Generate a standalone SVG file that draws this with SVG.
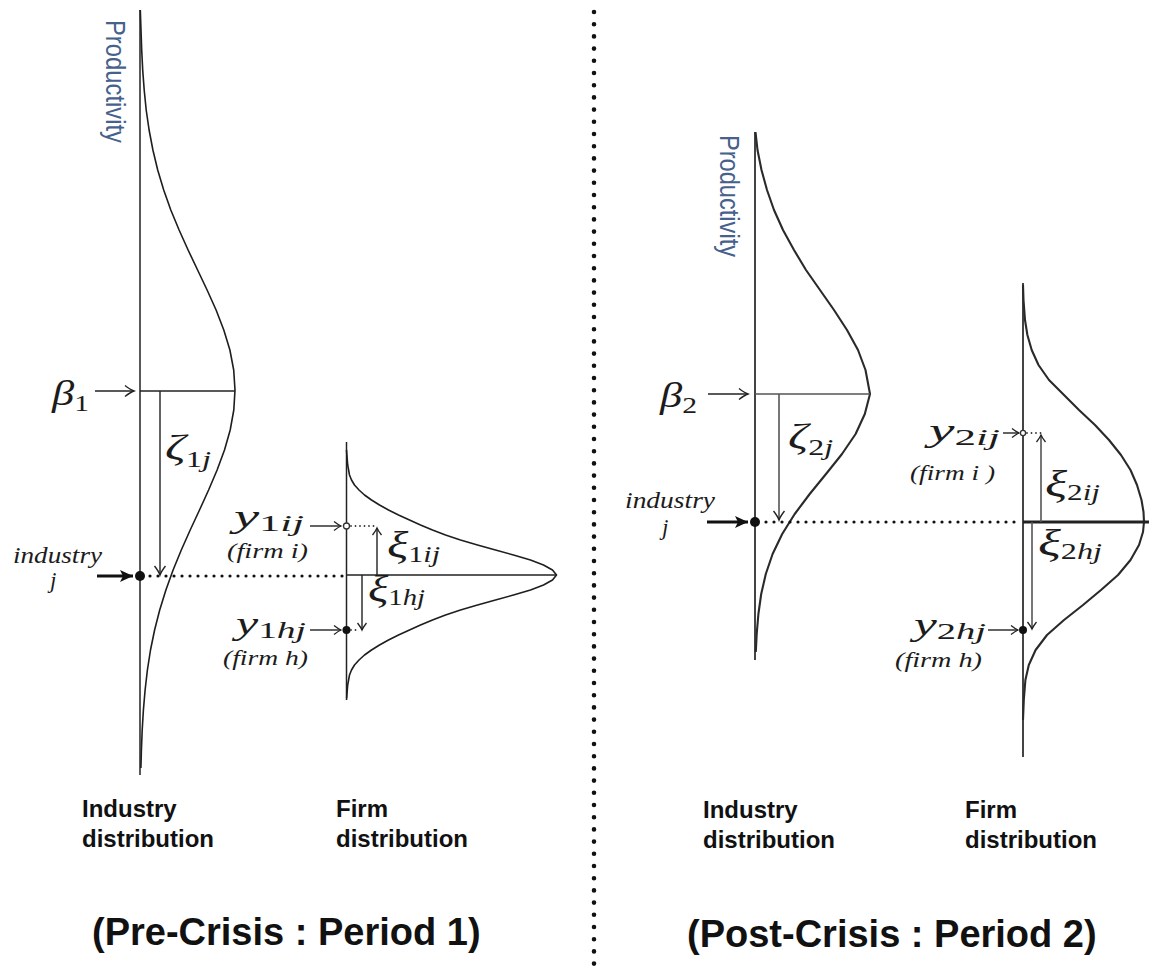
<svg xmlns="http://www.w3.org/2000/svg" width="1149" height="973" viewBox="0 0 1149 973">
<style>
.bg{fill:#fff}
.ax{stroke:#222;stroke-width:1.5;fill:none}
.ax2{stroke:#444;stroke-width:2;fill:none}
.cv{stroke:#1e1e1e;stroke-width:1.6;fill:none;stroke-linejoin:round}
.cv2{stroke:#2a2a2a;stroke-width:2.1;fill:none;stroke-linejoin:round}
.ln{stroke:#222;stroke-width:1.4;fill:none}
.ln2{stroke:#555;stroke-width:1.6;fill:none}
.dot{stroke:#111;stroke-width:3.2;stroke-linecap:round;stroke-dasharray:0 8;fill:none}
.sdot{stroke:#333;stroke-width:1.8;stroke-linecap:round;stroke-dasharray:0 4.5;fill:none}
.bold{stroke:#111;stroke-width:3;fill:none}
.m{font-family:"Liberation Serif","Times New Roman",serif;fill:#1c1c1c}
.it{font-style:italic}
.lab{font-family:"Liberation Sans",Arial,sans-serif;font-weight:bold;font-size:24px;fill:#111}
.title{font-family:"Liberation Sans",Arial,sans-serif;font-weight:bold;font-size:38px;fill:#111}
.prod{font-family:"Liberation Sans",Arial,sans-serif;font-size:27px;fill:#45618c}
</style>
<defs>
<marker id="open" viewBox="-11 -7 13 14" refX="0" refY="0" markerWidth="13" markerHeight="14" markerUnits="userSpaceOnUse" orient="auto">
<path d="M-9,-5.5 Q-3.5,-1.2 0,0 Q-3.5,1.2 -9,5.5" fill="none" stroke="#222" stroke-width="1.4"/>
</marker>
<marker id="opensm" viewBox="-9 -6 11 12" refX="0" refY="0" markerWidth="11" markerHeight="12" markerUnits="userSpaceOnUse" orient="auto">
<path d="M-7,-4.5 Q-2.5,-1 0,0 Q-2.5,1 -7,4.5" fill="none" stroke="#222" stroke-width="1.3"/>
</marker>
<marker id="bold" viewBox="-14 -7 15 14" refX="0" refY="0" markerWidth="15" markerHeight="14" markerUnits="userSpaceOnUse" orient="auto">
<path d="M-13,-6 L0,0 L-13,6 L-10,0 Z" fill="#111"/>
</marker>
</defs>
<rect class="bg" x="0" y="0" width="1149" height="973"/>

<g id="divider">
<line x1="594" y1="12" x2="594" y2="970" stroke="#111" stroke-width="4.6" stroke-linecap="round" stroke-dasharray="0 12.2"/>
</g>

<!-- Pre-crisis : industry distribution -->
<g id="industry-dist-1">
<line class="ax" x1="140" y1="10" x2="140" y2="775"/>
<polyline class="cv" points="140.3,10 141,30 141.7,50 142.7,70 144.2,90 146.2,110 149.1,130 152.9,150 157.7,170 163.7,190 170.8,210 179.1,230 188.1,250 197.6,270 207.1,290 216.1,310 223.8,330 229.9,350 233.7,370 235,390 233.8,410 230.2,430 224.5,450 217.1,470 208.6,490 199.5,510 190.2,530 181.3,550 173.1,570 165.9,590 159.7,610 154.6,630 150.5,650 147.4,670 145.1,690 143.4,710 142.2,730 141.4,750 140.9,768"/>
<line class="ln" x1="140" y1="391" x2="235" y2="391"/>
<circle cx="140" cy="576" r="5" fill="#111"/>
<text class="prod" transform="translate(106,20) rotate(90)" textLength="123" lengthAdjust="spacingAndGlyphs">Productivity</text>
</g>

<!-- Pre-crisis : firm distribution -->
<g id="firm-dist-1">
<line class="ax" x1="346.5" y1="442" x2="346.5" y2="698"/>
<polyline class="cv" points="346.5,450 346.9,455 347.7,465 349.5,475 351.5,480 354.5,485 359,490 364.5,495 371.5,500 379.5,505 388.5,510 398.5,515 409.5,520 420.5,525 432.5,530 445.5,535 460.5,540 477.5,545 495.5,550 513.5,555 530.5,560 543.5,565 552.5,570 556.5,575 552.5,580 543.5,585 530.5,590 513.5,595 495.5,600 477.5,605 460.5,610 445.5,615 432.5,620 420.5,625 409.5,630 398.5,635 388.5,640 379.5,645 371.5,650 364.5,655 359,660 354.5,665 351.5,670 349.5,675 347.7,685 346.9,695 346.5,700"/>
<line class="ln" x1="346.5" y1="575" x2="557" y2="575"/>
<circle cx="346.5" cy="526" r="3" fill="#fff" stroke="#333" stroke-width="1.3"/>
<circle cx="346.5" cy="630" r="4" fill="#111"/>
</g>

<!-- Post-crisis : industry distribution -->
<g id="industry-dist-2">
<line class="ax2" x1="755" y1="132" x2="755" y2="660"/>
<polyline class="cv2" points="755.5,132 757.5,150 761.5,170 767,190 774,210 783,230 794,250 806,270 820,290 834,310 847,330 858,350 865.5,370 870,394 864.8,414 855.6,434 842,454 826,474 809.7,494 794.7,514 782.2,534 772.6,554 765.8,574 761.2,594 758.4,614 756.7,634 755.8,652"/>
<line class="ln2" x1="755" y1="394" x2="870" y2="394"/>
<circle cx="755" cy="522" r="5" fill="#111"/>
<text class="prod" transform="translate(720,135) rotate(90)" textLength="122" lengthAdjust="spacingAndGlyphs">Productivity</text>
</g>

<!-- Post-crisis : firm distribution -->
<g id="firm-dist-2">
<line class="ax2" x1="1023" y1="283" x2="1023" y2="757" stroke="#666" stroke-width="1.6"/>
<polyline class="cv2" points="1023,285 1023.5,300 1025,320 1027.4,335 1031.7,350 1038.5,365 1049,380 1064,395 1079,410 1095,425 1109,440 1121,455 1130.5,470 1137,485 1141.5,500 1143.5,512 1144,522 1143,532 1139,545 1130.5,560 1118,575 1101,590 1083,605 1064,620 1047,635 1035.6,650 1028.8,665 1025.4,680 1023.8,700 1023,720"/>
<line x1="1023" y1="522" x2="1149" y2="522" stroke="#222" stroke-width="3"/>
<circle cx="1023" cy="433" r="2.6" fill="#fff" stroke="#333" stroke-width="1.3"/>
<circle cx="1023" cy="630" r="4" fill="#111"/>
</g>

<g id="connectors">
<!-- left -->
<line class="ln" x1="95" y1="391" x2="134" y2="391" marker-end="url(#open)"/>
<line class="ln" x1="160" y1="391" x2="160" y2="575" marker-end="url(#open)"/>
<line class="bold" x1="97" y1="576" x2="133" y2="576" marker-end="url(#bold)"/>
<line class="dot" x1="150" y1="576" x2="344" y2="576"/>
<line class="ln" x1="310" y1="526" x2="341" y2="526" stroke-width="1.2" marker-end="url(#opensm)"/>
<line class="sdot" x1="351" y1="526" x2="377" y2="526"/>
<line class="ln" x1="377" y1="575" x2="377" y2="528" stroke-width="1.2" marker-end="url(#opensm)"/>
<line class="ln" x1="362" y1="575" x2="362" y2="630" stroke-width="1.2" marker-end="url(#opensm)"/>
<line class="ln" x1="310" y1="630" x2="341" y2="630" stroke-width="1.2" marker-end="url(#opensm)"/>
<line class="sdot" x1="351" y1="630" x2="360" y2="630"/>
<!-- right -->
<line class="ln" x1="708" y1="394" x2="748" y2="394" marker-end="url(#open)"/>
<line class="ln2" x1="779" y1="394" x2="779" y2="520" marker-end="url(#open)"/>
<line class="bold" x1="707" y1="522" x2="748" y2="522" marker-end="url(#bold)"/>
<line class="dot" x1="766" y1="522" x2="1020" y2="522"/>
<line class="ln" x1="1003" y1="433" x2="1019" y2="433" stroke-width="1.2" marker-end="url(#opensm)"/>
<line class="sdot" x1="1027" y1="433" x2="1043" y2="433"/>
<line class="ln2" x1="1041" y1="522" x2="1041" y2="435" stroke-width="1.3" marker-end="url(#opensm)"/>
<line class="ln2" x1="1032" y1="522" x2="1032" y2="629" stroke-width="1.3" marker-end="url(#opensm)"/>
<line class="ln" x1="988" y1="630" x2="1018" y2="630" stroke-width="1.2" marker-end="url(#opensm)"/>
</g>

<g id="labels-1">
<text class="m" x="52" y="405" textLength="37" lengthAdjust="spacingAndGlyphs"><tspan class="it" font-size="36">β</tspan><tspan font-size="24" dy="6">1</tspan></text>
<text class="m" x="165" y="460" textLength="46" lengthAdjust="spacingAndGlyphs"><tspan class="it" font-size="36">ζ</tspan><tspan font-size="23" dy="7">1</tspan><tspan class="it" font-size="23">j</tspan></text>
<text class="m it" x="13" y="563" font-size="23" textLength="89" lengthAdjust="spacingAndGlyphs">industry</text>
<text class="m it" x="50" y="588" font-size="23">j</text>
<text class="m" x="234" y="527" textLength="70" lengthAdjust="spacingAndGlyphs"><tspan class="it" font-size="32">y</tspan><tspan font-size="24" dy="4">1</tspan><tspan class="it" font-size="24">ij</tspan></text>
<text class="m it" x="227" y="558" font-size="20" textLength="81" lengthAdjust="spacingAndGlyphs">(firm i)</text>
<text class="m" x="387" y="558" textLength="53" lengthAdjust="spacingAndGlyphs"><tspan class="it" font-size="38">ξ</tspan><tspan font-size="23" dy="4">1</tspan><tspan class="it" font-size="23">ij</tspan></text>
<text class="m" x="368" y="602" textLength="57" lengthAdjust="spacingAndGlyphs"><tspan class="it" font-size="38">ξ</tspan><tspan font-size="23" dy="3">1</tspan><tspan class="it" font-size="23">hj</tspan></text>
<text class="m" x="236" y="634" textLength="70" lengthAdjust="spacingAndGlyphs"><tspan class="it" font-size="32">y</tspan><tspan font-size="24" dy="4">1</tspan><tspan class="it" font-size="24">hj</tspan></text>
<text class="m it" x="223" y="665" font-size="20" textLength="85" lengthAdjust="spacingAndGlyphs">(firm h)</text>
<text class="lab" x="82" y="817">Industry</text>
<text class="lab" x="82" y="847">distribution</text>
<text class="lab" x="336" y="817">Firm</text>
<text class="lab" x="336" y="847">distribution</text>
<text class="title" x="92" y="945">(Pre-Crisis : Period 1)</text>
</g>

<g id="labels-2">
<text class="m" x="660" y="407" textLength="37" lengthAdjust="spacingAndGlyphs"><tspan class="it" font-size="36">β</tspan><tspan font-size="24" dy="6">2</tspan></text>
<text class="m" x="788" y="449" textLength="45" lengthAdjust="spacingAndGlyphs"><tspan class="it" font-size="36">ζ</tspan><tspan font-size="23" dy="6">2</tspan><tspan class="it" font-size="23">j</tspan></text>
<text class="m it" x="625" y="508" font-size="23" textLength="90" lengthAdjust="spacingAndGlyphs">industry</text>
<text class="m it" x="662" y="535" font-size="23">j</text>
<text class="m" x="929" y="441" textLength="71" lengthAdjust="spacingAndGlyphs"><tspan class="it" font-size="32">y</tspan><tspan font-size="24" dy="4">2</tspan><tspan class="it" font-size="24">ij</tspan></text>
<text class="m it" x="910" y="480" font-size="20" textLength="85" lengthAdjust="spacingAndGlyphs">(firm i )</text>
<text class="m" x="1045" y="497" textLength="55" lengthAdjust="spacingAndGlyphs"><tspan class="it" font-size="38">ξ</tspan><tspan font-size="23" dy="3">2</tspan><tspan class="it" font-size="23">ij</tspan></text>
<text class="m" x="1038" y="556" textLength="64" lengthAdjust="spacingAndGlyphs"><tspan class="it" font-size="38">ξ</tspan><tspan font-size="23" dy="3">2</tspan><tspan class="it" font-size="23">hj</tspan></text>
<text class="m" x="914" y="635" textLength="72" lengthAdjust="spacingAndGlyphs"><tspan class="it" font-size="32">y</tspan><tspan font-size="24" dy="4">2</tspan><tspan class="it" font-size="24">hj</tspan></text>
<text class="m it" x="895" y="667" font-size="20" textLength="87" lengthAdjust="spacingAndGlyphs">(firm h)</text>
<text class="lab" x="703" y="818">Industry</text>
<text class="lab" x="703" y="848">distribution</text>
<text class="lab" x="965" y="818">Firm</text>
<text class="lab" x="965" y="848">distribution</text>
<text class="title" x="687" y="947">(Post-Crisis : Period 2)</text>
</g>
</svg>
